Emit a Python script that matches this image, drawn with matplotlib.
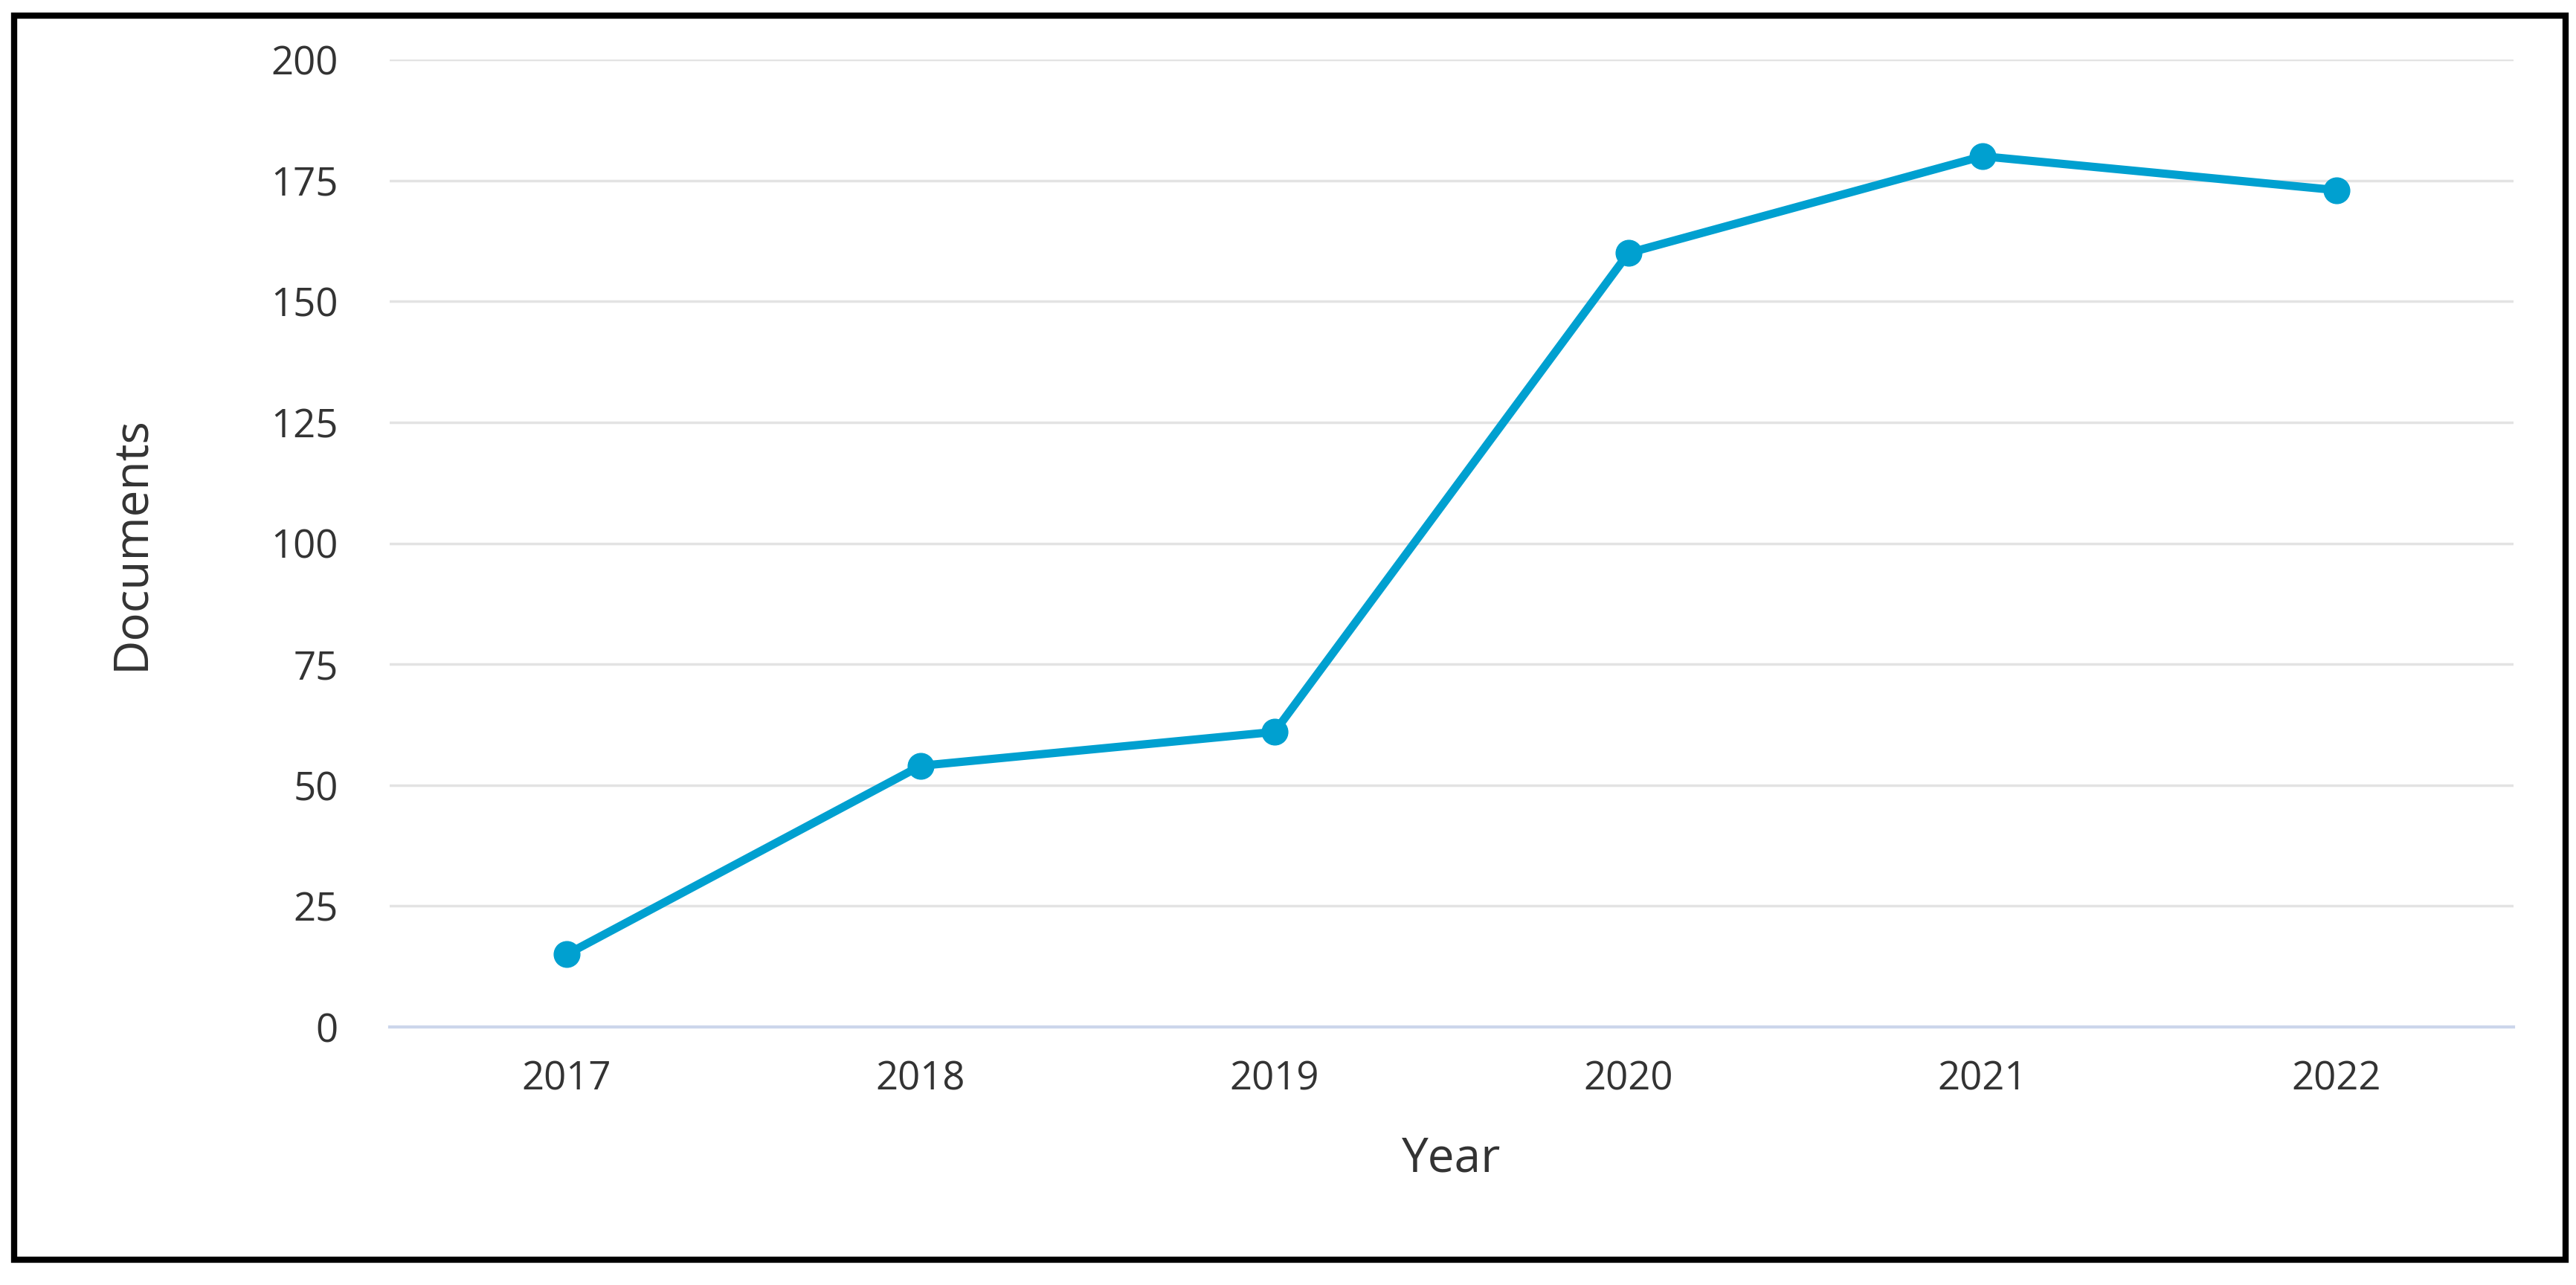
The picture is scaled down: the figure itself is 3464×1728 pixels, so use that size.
import matplotlib.pyplot as plt
from matplotlib.patches import Rectangle

years = ['2017', '2018', '2019', '2020', '2021', '2022']
documents = [15, 54, 61, 160, 180, 173]
y_ticks = [0, 25, 50, 75, 100, 125, 150, 175, 200]

plt.rcParams['font.family'] = ['Open Sans', 'DejaVu Sans']

fig = plt.figure(figsize=(34.64, 17.28), dpi=100)
ax = fig.add_axes([0.1513, 0.2008, 0.8244, 0.7529])

x = range(len(years))
ax.plot(x, documents, color='#00a0d0', linewidth=8, marker='o',
        markersize=25, clip_on=False, zorder=3)

ax.set_xlim(-0.5, len(years) - 0.5)
ax.set_ylim(0, 200)
ax.set_xticks(list(x))
ax.set_xticklabels(years)
ax.set_yticks(y_ticks)

# grid like the original web chart
ax.grid(axis='y', color='#e3e3e3', linewidth=2.5)
ax.set_axisbelow(True)
for side in ['top', 'right', 'left']:
    ax.spines[side].set_visible(False)
ax.spines['bottom'].set_color('#ccd6eb')
ax.spines['bottom'].set_linewidth(3)

ax.tick_params(axis='both', length=0, labelsize=38, colors='#333333')
ax.tick_params(axis='y', pad=50)
ax.tick_params(axis='x', pad=32)

ax.set_xlabel('Year', fontsize=46, color='#333333', labelpad=34)
ax.set_ylabel('Documents', fontsize=46, color='#333333', labelpad=112)

# black frame around the whole picture
fig.patches.append(Rectangle((19 / 3464, 1 - 1694 / 1728), (3450 - 19) / 3464,
                             (1694 - 21) / 1728, transform=fig.transFigure,
                             fill=False, edgecolor='black', linewidth=6))

fig.savefig('out.png', dpi=100)
